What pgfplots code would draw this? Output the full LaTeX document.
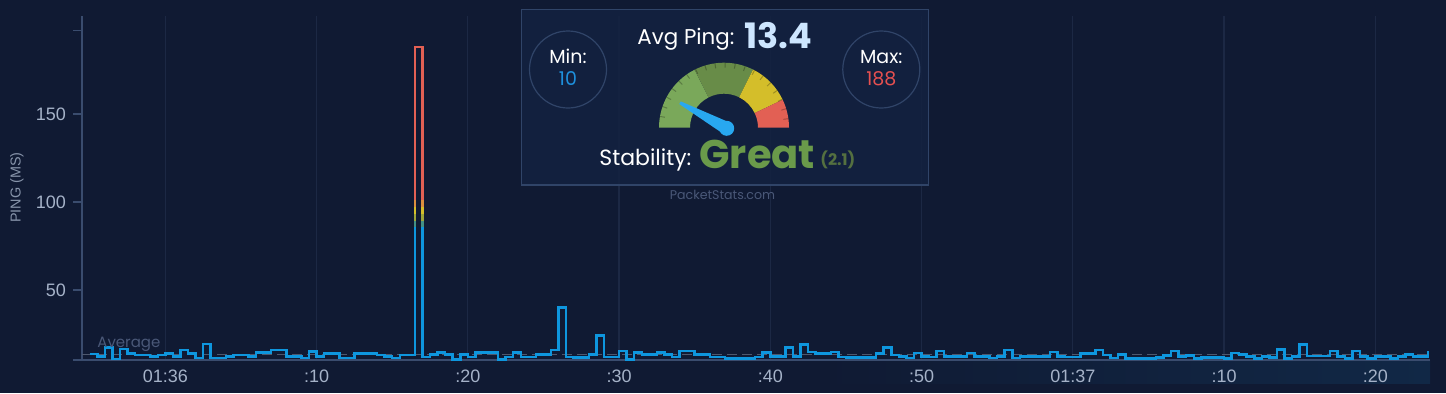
\documentclass[border=0pt]{standalone}
\usepackage{pgfplots}
\usepackage{pgfplotstable}
\pgfplotsset{compat=1.18}
\usepackage{fontspec}
\setmainfont{Liberation Sans}
\newfontfamily\pop{Poppins}
\definecolor{bg}{RGB}{16,26,51}
\definecolor{axc}{RGB}{58,76,110}
\definecolor{gridc}{RGB}{28,40,68}
\definecolor{tickc}{RGB}{165,178,200}
\definecolor{linec}{RGB}{14,150,222}
\definecolor{avgc}{RGB}{78,88,110}
\definecolor{panelc}{RGB}{19,34,64}
\definecolor{panelb}{RGB}{48,68,104}
\definecolor{g1}{RGB}{122,168,90}
\definecolor{g2}{RGB}{104,140,72}
\definecolor{gy}{RGB}{212,190,42}
\definecolor{gr}{RGB}{226,96,84}
\definecolor{needle}{RGB}{40,168,240}
\definecolor{minc}{RGB}{30,144,220}
\definecolor{maxc}{RGB}{230,80,80}
\definecolor{greatc}{RGB}{106,154,74}
\definecolor{scorec}{RGB}{84,112,64}
\definecolor{bigc}{RGB}{205,230,255}
\definecolor{stripc}{RGB}{17,40,70}
\definecolor{wmc}{RGB}{74,88,120}

\pgfplotstableread{
t v
-5 13.5
-4.5 12.3
-4 17.2
-3.5 10.8
-3 16.5
-2.5 13.8
-2 13
-1.5 13
-1 12.3
-0.5 13
0 13.8
0.5 12.3
1 16
1.5 13.8
2 11.3
2.5 19.2
3 11.3
3.5 11.3
4 12.3
4.5 13
5 13
5.5 12.3
6 14.5
6.5 14.5
7 16
7.5 16
8 12.3
8.5 12.3
9 11.3
9.5 15
10 12.3
10.5 13.8
11 13.8
11.5 11.3
12 11.3
12.5 13.8
13 14
13.5 14
14 13
14.5 12.3
15 11.3
15.5 13
16 13
16.5 188
17 11.9
17.5 13.3
18 14.5
18.5 13.3
19 10.6
19.5 13.3
20 11.9
20.5 14.5
21 14.5
21.5 14.5
22 10.6
22.5 11.9
23 14.5
23.5 11.9
24 11.9
24.5 13.3
25 13.3
25.5 16
26 40
26.5 11.9
27 11.5
27.5 11.5
28 13.3
28.5 24
29 11.9
29.5 11.9
30 15.3
30.5 10.6
31 14.5
31.5 13.3
32 13.3
32.5 14.5
33 13.3
33.5 11.9
34 15.3
34.5 15.3
35 13.3
35.5 13.3
36 11.9
36.5 11.9
37 11
37.5 11
38 11
38.5 11
39 11.9
39.5 14.5
40 12.3
40.5 12.3
41 17.2
41.5 12.3
42 19.1
42.5 14.7
43 13.8
43.5 13.8
44 14.7
44.5 12
45 11.7
45.5 11.7
46 11.7
46.5 11.7
47 13.8
47.5 17.2
48 13
48.5 12.3
49 11.3
49.5 14.2
50 12.3
50.5 12
51 15.2
51.5 12.3
52 12.3
52.5 12.3
53 14.2
53.5 12.3
54 12.3
54.5 11.3
55 12.3
55.5 16
56 11.3
56.5 12.3
57 12.3
57.5 12.3
58 12.3
58.5 14.7
59 12.3
59.5 12
60 12
60.5 13.8
61 13.8
61.5 16
62 13
62.5 11.3
63 13.3
63.5 11
64 11
64.5 11
65 11
65.5 11.5
66 12.8
66.5 15.3
67 12.1
67.5 12.8
68 11
68.5 11.5
69 11.5
69.5 11.5
70 11
70.5 14.2
71 13.2
71.5 12.3
72 11
72.5 12.3
73 11.5
73.5 16.2
74 11
74.5 12.3
75 19.1
75.5 12.5
76 12.5
76.5 12.5
77 15.3
77.5 12.1
78 11
78.5 15.3
79 12.3
79.5 11
80 12.3
80.5 12.3
81 11
81.5 12.3
82 13.2
82.5 12.1
83 12.1
83.5 15.3
}\pingdata

\newcommand\spikeband[3]{%
  \begin{scope}
    \clip (axis cs:15,#1) rectangle (axis cs:19,#2);
    \addplot[#3, const plot, line width=1.25pt, forget plot] coordinates {(16,13) (16.5,188) (17,11.9)};
  \end{scope}}

\begin{document}
\begin{tikzpicture}
\begin{scope}[x=0.5pt,y=0.5pt]
  \fill[bg] (0,0) rectangle (1446,393);
  \path[use as bounding box] (0,0) rectangle (1446,393);
  \shade[left color=bg, right color=stripc] (820,10) rectangle (1430,33);
\end{scope}
\begin{axis}[
  at={(41pt,16.5pt)}, anchor=south west,
  scale only axis, width=674pt, height=172pt,
  xmin=-5.51, xmax=83.62, ymin=10.2, ymax=205.7,
  axis lines=left,
  axis line style={draw=axc, line width=0.7pt, -},
  x axis line style={shorten <=-4.5pt},
  xtick={0,10,...,80},
  xticklabels={01:36,:10,:20,:30,:40,:50,01:37,:10,:20},
  ytick={50,100,150,197.4}, yticklabels={50,100,150,{}},
  major x tick style={draw=none},
  major y tick style={draw=axc, line width=0.7pt},
  major tick length=4.5pt, tick align=outside,
  xmajorgrids, major x grid style={draw=gridc, line width=0.6pt},
  ticklabel style={font=\fontsize{9}{10}\selectfont, text=tickc},
  x tick label style={yshift=3pt},
  /pgf/number format/assume math mode=true,
  clip=false,
]
\addplot[avgc, dash pattern=on 5pt off 2.5pt, line width=0.6pt, forget plot] coordinates {(-5.51,13.4) (83.62,13.4)};
\addplot[linec, const plot, line width=1.25pt] table[x=t, y=v] {\pingdata};
\spikeband{101}{206}{gr}
\spikeband{97}{101}{gr!50!gy}
\spikeband{93}{97}{gy}
\spikeband{89}{93}{gy!50!g2}
\spikeband{86}{89}{g2!60!linec}
\end{axis}
\begin{scope}[x=0.5pt,y=0.5pt]
  % labels
  \node[rotate=90, text=tickc!80!bg, font=\fontsize{7.2}{8}\selectfont] at (17,205.5) {PING (MS)};
  \node[anchor=base west, inner sep=0, text=wmc, font=\pop\fontsize{7.5}{8}\selectfont] at (97,45.5) {Average};
  % panel
  \fill[panelc, fill opacity=0.85] (521.7,208) rectangle (928.7,383.7);
  \draw[panelb, line width=0.6pt] (521.7,208) rectangle (928.7,383.7);
  \draw[panelb, line width=0.6pt] (568,323.5) circle[radius=38.5];
  \draw[panelb, line width=0.6pt] (881.3,323.5) circle[radius=38.5];
  \node[anchor=base, inner sep=0, text=white, font=\pop\fontsize{9.5}{10}\selectfont] at (568,329.7) {Min:};
  \node[anchor=base, inner sep=0, text=minc, font=\pop\fontsize{9.5}{10}\selectfont] at (568,308) {10};
  \node[anchor=base, inner sep=0, text=white, font=\pop\fontsize{9.5}{10}\selectfont] at (881.3,329.7) {Max:};
  \node[anchor=base, inner sep=0, text=maxc, font=\pop\fontsize{9.5}{10}\selectfont] at (881.3,308) {188};
  \node[anchor=base west, inner sep=0, text=white, font=\pop\fontsize{10.7}{11}\selectfont] at (637,348.7) {Avg Ping:};
  \node[anchor=base west, inner sep=0, text=bigc, font=\pop\bfseries\fontsize{17.5}{18}\selectfont] at (744,344.7) {13.4};
  % gauge
  \def\cx{724}\def\cy{265.3}
  \fill[g1] ([shift={(180:65)}]\cx,\cy) arc[start angle=180, end angle=117, radius=65] -- ([shift={(117:34)}]\cx,\cy) arc[start angle=117, end angle=180, radius=34] -- cycle;
  \fill[g2] ([shift={(117:65)}]\cx,\cy) arc[start angle=117, end angle=63.5, radius=65] -- ([shift={(63.5:34)}]\cx,\cy) arc[start angle=63.5, end angle=117, radius=34] -- cycle;
  \fill[gy] ([shift={(63.5:65)}]\cx,\cy) arc[start angle=63.5, end angle=25.5, radius=65] -- ([shift={(25.5:34)}]\cx,\cy) arc[start angle=25.5, end angle=63.5, radius=34] -- cycle;
  \fill[gr] ([shift={(25.5:65)}]\cx,\cy) arc[start angle=25.5, end angle=0, radius=65] -- ([shift={(0:34)}]\cx,\cy) arc[start angle=0, end angle=25.5, radius=34] -- cycle;
  \foreach \a in {8,17,...,172} {
    \draw[black, opacity=0.25, line width=0.5pt] ([shift={(\a:60)}]\cx,\cy) -- ([shift={(\a:65)}]\cx,\cy);
  }
  \fill[needle] ([shift={(61.3:6.5)}]726.7,264.7) -- ([shift={(61.3:1.5)}]680,290.3) -- ([shift={(241.3:1.5)}]680,290.3) -- ([shift={(241.3:6.5)}]726.7,264.7) -- cycle;
  \fill[needle] (726.7,264.7) circle[radius=7.5];
  \node[anchor=base west, inner sep=0, text=white, font=\pop\fontsize{11}{12}\selectfont] at (599,227.3) {Stability:};
  \node[anchor=base west, inner sep=0, text=greatc, font=\pop\bfseries\fontsize{20}{21}\selectfont] at (699,224.7) {Great};
  \node[anchor=base west, inner sep=0, text=scorec, font=\pop\bfseries\fontsize{8}{9}\selectfont] at (820,228) {(2.1)};
  \node[anchor=base, inner sep=0, text=wmc, font=\pop\fontsize{6.3}{7}\selectfont] at (722.5,194) {PacketStats.com};
\end{scope}
\end{tikzpicture}
\end{document}
